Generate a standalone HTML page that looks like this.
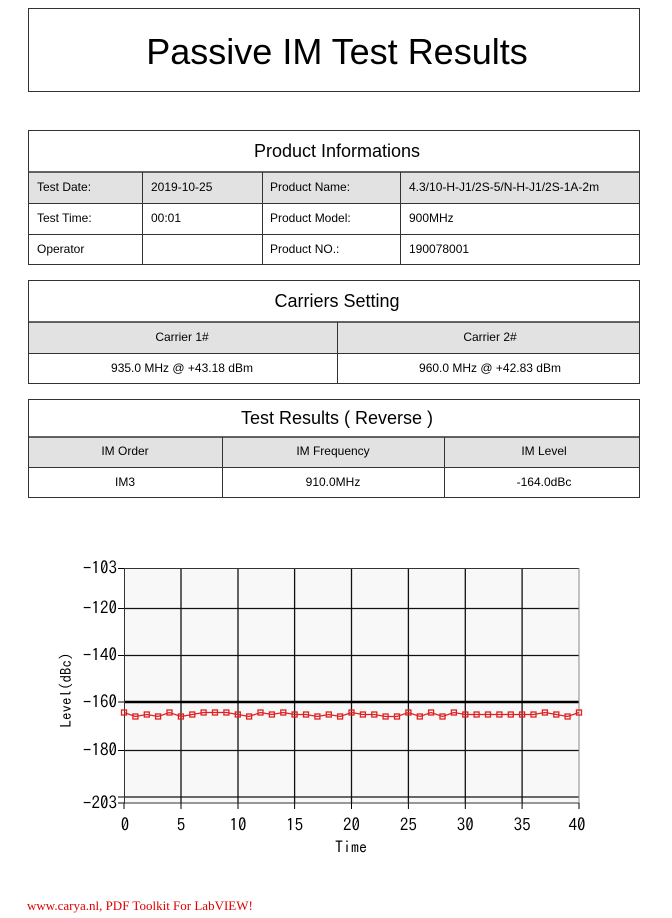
<!DOCTYPE html>
<html><head><meta charset="utf-8"><style>
body{margin:0;background:#fff}
</style></head><body>
<svg width="672" height="913" xmlns="http://www.w3.org/2000/svg" font-family="Liberation Sans, Arial, sans-serif">
<rect width="672" height="913" fill="#fff"/>
<!-- title -->
<rect x="28.5" y="8.5" width="611" height="83" fill="none" stroke="#333" stroke-width="1"/>
<text x="337" y="64" font-size="36" text-anchor="middle" fill="#000">Passive IM Test Results</text>

<!-- product -->
<rect x="28" y="172" width="612" height="31" fill="#e2e2e2"/>
<rect x="28.5" y="130.5" width="611" height="134" fill="none" stroke="#333"/>
<line x1="28" y1="172" x2="640" y2="172" stroke="#333" stroke-width="1.5"/>
<line x1="28" y1="203.5" x2="640" y2="203.5" stroke="#333"/>
<line x1="28" y1="234.5" x2="640" y2="234.5" stroke="#333"/>
<line x1="142.5" y1="172" x2="142.5" y2="265" stroke="#333"/>
<line x1="262.5" y1="172" x2="262.5" y2="265" stroke="#333"/>
<line x1="400.5" y1="172" x2="400.5" y2="265" stroke="#333"/>
<text x="337" y="157" font-size="18" text-anchor="middle">Product Informations</text>
<g font-size="12">
<text x="37" y="191">Test Date:</text><text x="151" y="191">2019-10-25</text><text x="270" y="191">Product Name:</text><text x="409" y="191">4.3/10-H-J1/2S-5/N-H-J1/2S-1A-2m</text>
<text x="37" y="222">Test Time:</text><text x="151" y="222">00:01</text><text x="270" y="222">Product Model:</text><text x="409" y="222">900MHz</text>
<text x="37" y="253">Operator</text><text x="270" y="253">Product NO.:</text><text x="409" y="253">190078001</text>
</g>

<!-- carriers -->
<rect x="28" y="322" width="612" height="31" fill="#e2e2e2"/>
<rect x="28.5" y="280.5" width="611" height="103" fill="none" stroke="#333"/>
<line x1="28" y1="322" x2="640" y2="322" stroke="#333" stroke-width="1.5"/>
<line x1="28" y1="353.5" x2="640" y2="353.5" stroke="#333"/>
<line x1="337.5" y1="322" x2="337.5" y2="384" stroke="#333"/>
<text x="337" y="307" font-size="18" text-anchor="middle">Carriers Setting</text>
<g font-size="12" text-anchor="middle">
<text x="182" y="341">Carrier 1#</text><text x="490" y="341">Carrier 2#</text>
<text x="182" y="372">935.0 MHz @ +43.18 dBm</text><text x="490" y="372">960.0 MHz @ +42.83 dBm</text>
</g>

<!-- results -->
<rect x="28" y="437" width="612" height="30" fill="#e2e2e2"/>
<rect x="28.5" y="399.5" width="611" height="98" fill="none" stroke="#333"/>
<line x1="28" y1="437" x2="640" y2="437" stroke="#333" stroke-width="1.5"/>
<line x1="28" y1="467.5" x2="640" y2="467.5" stroke="#333"/>
<line x1="222.5" y1="437" x2="222.5" y2="498" stroke="#333"/>
<line x1="444.5" y1="437" x2="444.5" y2="498" stroke="#333"/>
<text x="337" y="424" font-size="18" text-anchor="middle">Test Results ( Reverse )</text>
<g font-size="12" text-anchor="middle">
<text x="125" y="455">IM Order</text><text x="333" y="455">IM Frequency</text><text x="544" y="455">IM Level</text>
<text x="125" y="486">IM3</text><text x="333" y="486">910.0MHz</text><text x="544" y="486">-164.0dBc</text>
</g>

<!-- chart -->
<rect x="124" y="568" width="455" height="235" fill="#f8f8f8"/>
<g stroke="#111" stroke-width="1.3">
<line x1="124" y1="608.5" x2="579" y2="608.5"/>
<line x1="124" y1="655.5" x2="579" y2="655.5"/>
<line x1="124" y1="750.5" x2="579" y2="750.5"/>
<line x1="124" y1="797" x2="579" y2="797"/>
<line x1="181" y1="568" x2="181" y2="803"/>
<line x1="238" y1="568" x2="238" y2="803"/>
<line x1="294.6" y1="568" x2="294.6" y2="803"/>
<line x1="351.5" y1="568" x2="351.5" y2="803"/>
<line x1="408.4" y1="568" x2="408.4" y2="803"/>
<line x1="465.3" y1="568" x2="465.3" y2="803"/>
<line x1="522.1" y1="568" x2="522.1" y2="803"/>
</g>
<line x1="124" y1="702" x2="579" y2="702" stroke="#000" stroke-width="2.5"/>
<rect x="124.5" y="568.5" width="454.5" height="234.5" fill="none" stroke="#333" stroke-width="1"/>
<line x1="579" y1="568" x2="579" y2="803" stroke="#888"/>
<g stroke="#000" stroke-width="1">
<line x1="118" y1="568.5" x2="124" y2="568.5"/><line x1="118" y1="608.5" x2="124" y2="608.5"/><line x1="118" y1="655.5" x2="124" y2="655.5"/><line x1="118" y1="702" x2="124" y2="702"/><line x1="118" y1="750.5" x2="124" y2="750.5"/><line x1="118" y1="797" x2="124" y2="797"/><line x1="118" y1="803" x2="124" y2="803"/>
<line x1="124" y1="803" x2="124" y2="809"/><line x1="181" y1="803" x2="181" y2="809"/><line x1="238" y1="803" x2="238" y2="809"/><line x1="294.6" y1="803" x2="294.6" y2="809"/><line x1="351.5" y1="803" x2="351.5" y2="809"/><line x1="408.4" y1="803" x2="408.4" y2="809"/><line x1="465.3" y1="803" x2="465.3" y2="809"/><line x1="522.1" y1="803" x2="522.1" y2="809"/><line x1="579" y1="803" x2="579" y2="809"/>
</g>
<g font-family="IPAGothic, DejaVu Sans Mono, monospace" font-size="17" fill="#000">
<g text-anchor="end">
<text x="117" y="574">−103</text><text x="117" y="614">−120</text><text x="117" y="661">−140</text><text x="117" y="708">−160</text><text x="117" y="756">−180</text><text x="117" y="809">−203</text>
</g>
<g text-anchor="middle">
<text x="125" y="831">0</text><text x="181" y="831">5</text><text x="238" y="831">10</text><text x="294.6" y="831">15</text><text x="351.5" y="831">20</text><text x="408.4" y="831">25</text><text x="465.3" y="831">30</text><text x="522.1" y="831">35</text><text x="577" y="831">40</text>
<text x="351" y="853" font-size="16">Time</text>
</g>
<text x="0" y="0" transform="translate(71,690) rotate(-90)" text-anchor="middle" font-size="15">Level(dBc)</text>
</g>
<polyline fill="none" stroke="#e02020" stroke-width="1.2" points="124,712.5 135.4,716.5 146.8,714.5 158.1,716.5 169.5,712.5 180.9,716.5 192.3,714.5 203.6,712.5 215,712.5 226.4,712.5 237.8,714.5 249.1,716.5 260.5,712.5 271.9,714.5 283.3,712.5 294.6,714.5 306,714.5 317.4,716.5 328.8,714.5 340.1,716.5 351.5,712.5 362.9,714.5 374.3,714.5 385.6,716.5 397,716.5 408.4,712.5 419.8,716.5 431.1,712.5 442.5,716.5 453.9,712.5 465.3,714.5 476.6,714.5 488,714.5 499.4,714.5 510.8,714.5 522.1,714.5 533.5,714.5 544.9,712.5 556.3,714.5 567.6,716.5 579,712.5"/>
<g fill="none" stroke="#e02020" stroke-width="1.3">
<rect x="121.5" y="710" width="5" height="5"/><rect x="132.9" y="714" width="5" height="5"/><rect x="144.3" y="712" width="5" height="5"/><rect x="155.6" y="714" width="5" height="5"/><rect x="167" y="710" width="5" height="5"/><rect x="178.4" y="714" width="5" height="5"/><rect x="189.8" y="712" width="5" height="5"/><rect x="201.1" y="710" width="5" height="5"/><rect x="212.5" y="710" width="5" height="5"/><rect x="223.9" y="710" width="5" height="5"/><rect x="235.3" y="712" width="5" height="5"/><rect x="246.6" y="714" width="5" height="5"/><rect x="258" y="710" width="5" height="5"/><rect x="269.4" y="712" width="5" height="5"/><rect x="280.8" y="710" width="5" height="5"/><rect x="292.1" y="712" width="5" height="5"/><rect x="303.5" y="712" width="5" height="5"/><rect x="314.9" y="714" width="5" height="5"/><rect x="326.3" y="712" width="5" height="5"/><rect x="337.6" y="714" width="5" height="5"/><rect x="349" y="710" width="5" height="5"/><rect x="360.4" y="712" width="5" height="5"/><rect x="371.8" y="712" width="5" height="5"/><rect x="383.1" y="714" width="5" height="5"/><rect x="394.5" y="714" width="5" height="5"/><rect x="405.9" y="710" width="5" height="5"/><rect x="417.3" y="714" width="5" height="5"/><rect x="428.6" y="710" width="5" height="5"/><rect x="440" y="714" width="5" height="5"/><rect x="451.4" y="710" width="5" height="5"/><rect x="462.8" y="712" width="5" height="5"/><rect x="474.1" y="712" width="5" height="5"/><rect x="485.5" y="712" width="5" height="5"/><rect x="496.9" y="712" width="5" height="5"/><rect x="508.3" y="712" width="5" height="5"/><rect x="519.6" y="712" width="5" height="5"/><rect x="531" y="712" width="5" height="5"/><rect x="542.4" y="710" width="5" height="5"/><rect x="553.8" y="712" width="5" height="5"/><rect x="565.1" y="714" width="5" height="5"/><rect x="576.5" y="710" width="5" height="5"/>
</g>

<text x="27" y="910" font-family="Liberation Serif, serif" font-size="13" fill="#e00000">www.carya.nl, PDF Toolkit For LabVIEW!</text>
</svg>
</body></html>
